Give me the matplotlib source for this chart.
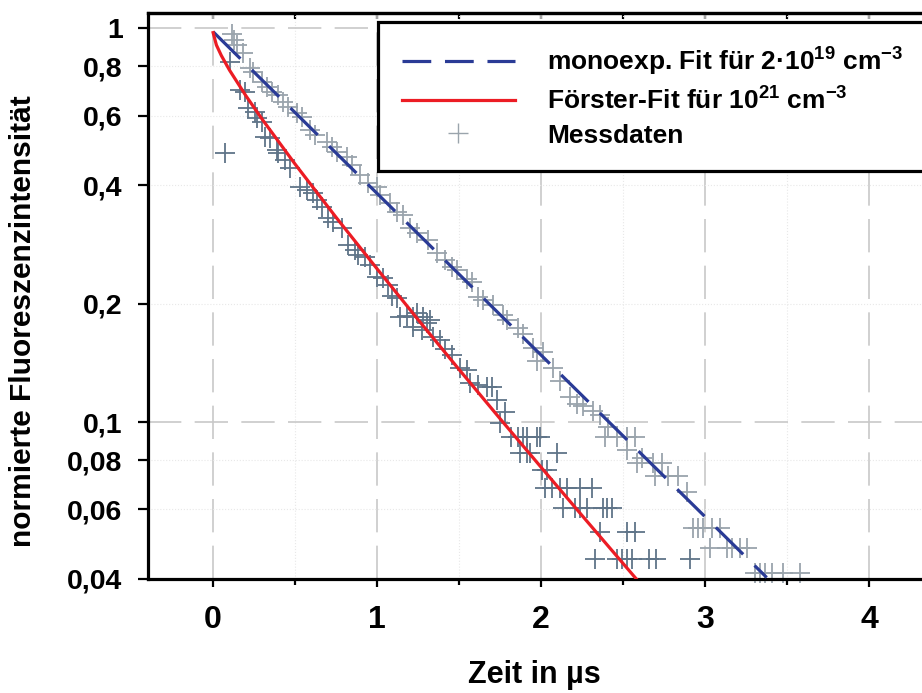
import matplotlib
matplotlib.use('Agg')
import matplotlib.pyplot as plt
from matplotlib.ticker import MultipleLocator, FixedLocator, LogLocator, FuncFormatter, NullFormatter
from matplotlib.lines import Line2D

# monoexp. fit for 2e19 cm^-3 (straight line on the log axis)
mono_t = [0.0, 3.376]
mono_y = [0.980, 0.0403]

# Foerster fit for 1e21 cm^-3
foerster_t = [0.0, 0.02, 0.05, 0.1, 0.2, 0.3, 0.5, 0.75, 1.0, 1.25, 1.5, 1.75, 2.0, 2.25, 2.58]
foerster_y = [0.975, 0.907, 0.853, 0.783, 0.674, 0.587, 0.452, 0.331, 0.245, 0.182, 0.136, 0.102, 0.0768, 0.0579, 0.040]

# measured data, low concentration (upper trace)
meas_hi_t = [0.114, 0.130, 0.148, 0.185, 0.226, 0.246, 0.297, 0.327, 0.358, 0.398, 0.429, 0.459, 0.510, 0.541,
             0.591, 0.622, 0.693, 0.724, 0.754, 0.815, 0.846, 0.896, 0.947, 0.998, 1.018, 1.079, 1.120, 1.160,
             1.201, 1.242, 1.313, 1.364, 1.415, 1.455, 1.486, 1.547, 1.577, 1.618, 1.648, 1.709, 1.770, 1.791,
             1.862, 1.892, 1.953, 2.014, 1.974, 2.075, 2.116, 2.177, 2.218, 2.258, 2.319, 2.360, 2.410, 2.390,
             2.462, 2.523, 2.573, 2.523, 2.614, 2.584, 2.685, 2.736, 2.695, 2.776, 2.837, 2.888,
             2.929, 2.959, 2.990, 3.041, 3.091, 3.030, 3.132, 3.163, 3.213, 3.254,
             3.305, 3.335, 3.366, 3.407, 3.477, 3.579]
meas_hi_y = [0.967, 0.934, 0.907, 0.866, 0.793, 0.775, 0.731, 0.710, 0.689, 0.677, 0.650, 0.631, 0.610, 0.596,
             0.552, 0.536, 0.514, 0.500, 0.485, 0.471, 0.450, 0.424, 0.405, 0.396, 0.377, 0.360, 0.342, 0.336,
             0.311, 0.302, 0.290, 0.269, 0.258, 0.248, 0.243, 0.231, 0.227, 0.208, 0.204, 0.198, 0.187, 0.182,
             0.173, 0.167, 0.154, 0.151, 0.143, 0.137, 0.127, 0.116, 0.111, 0.110, 0.107, 0.104, 0.0973, 0.0915,
             0.0915, 0.0915, 0.0915, 0.0851, 0.0812, 0.0788, 0.0788, 0.0788, 0.0731, 0.0731, 0.0731, 0.0665,
             0.0539, 0.0539, 0.0539, 0.0539, 0.0539, 0.0480, 0.0480, 0.0480, 0.0480, 0.0480,
             0.0414, 0.0414, 0.0414, 0.0414, 0.0414, 0.0414]

# measured data, high concentration (lower trace)
meas_lo_t = [0.073, 0.104, 0.165, 0.195, 0.213, 0.256, 0.268, 0.299, 0.317, 0.348, 0.390, 0.396, 0.439, 0.470,
             0.530, 0.571, 0.610, 0.634, 0.665, 0.701, 0.732, 0.787, 0.823, 0.866, 0.884, 0.927, 0.957, 1.000,
             1.037, 1.067, 1.091, 1.122, 1.140, 1.183, 1.220, 1.244, 1.280, 1.305, 1.323, 1.220, 1.274, 1.341,
             1.384, 1.415, 1.457, 1.506, 1.549, 1.567, 1.616, 1.671, 1.701, 1.732, 1.780, 1.750,
             1.817, 1.860, 1.890, 1.915, 1.976, 1.994, 1.872, 1.915, 1.933, 2.098, 2.006, 2.037,
             2.024, 2.067, 2.116, 2.159, 2.238, 2.311, 2.134, 2.207, 2.238, 2.280, 2.378, 2.402, 2.433,
             2.360, 2.524, 2.573, 2.329, 2.463, 2.494, 2.524, 2.555, 2.659, 2.701, 2.909]
meas_lo_y = [0.483, 0.821, 0.697, 0.689, 0.628, 0.613, 0.592, 0.578, 0.530, 0.527, 0.491, 0.483, 0.463, 0.442,
             0.396, 0.389, 0.382, 0.367, 0.352, 0.330, 0.322, 0.311, 0.282, 0.274, 0.266, 0.263, 0.251, 0.234,
             0.232, 0.223, 0.209, 0.207, 0.185, 0.186, 0.185, 0.189, 0.185, 0.179, 0.182, 0.174, 0.171, 0.164,
             0.162, 0.153, 0.148, 0.137, 0.136, 0.126, 0.124, 0.123, 0.123, 0.114, 0.106, 0.0996,
             0.0915, 0.0915, 0.0915, 0.0915, 0.0915, 0.0915, 0.0834, 0.0834, 0.0834, 0.0834, 0.0757, 0.0757,
             0.0680, 0.0680, 0.0680, 0.0680, 0.0680, 0.0680, 0.0605, 0.0605, 0.0605, 0.0605, 0.0605, 0.0605, 0.0605,
             0.0527, 0.0527, 0.0527, 0.0450, 0.0450, 0.0450, 0.0450, 0.0450, 0.0450, 0.0450, 0.0450]

y_ticks = [0.04, 0.06, 0.08, 0.1, 0.2, 0.4, 0.6, 0.8, 1.0]

blue = '#2a3b96'
red = '#ec1c24'
gray_hi = '#9aa4ac'
gray_lo = '#5f7488'

plt.rcParams['font.family'] = ['Liberation Sans', 'DejaVu Sans']
plt.rcParams['mathtext.fontset'] = 'custom'
plt.rcParams['mathtext.rm'] = 'Liberation Sans:bold'
plt.rcParams['mathtext.it'] = 'Liberation Sans:bold'
plt.rcParams['mathtext.bf'] = 'Liberation Sans:bold'
plt.rcParams['mathtext.default'] = 'rm'

fig = plt.figure(figsize=(9.22, 6.93), dpi=100)
ax = fig.add_axes([0.160, 0.1648, 0.840, 0.8165])
ax.set_yscale('log')
ax.set_ylim(0.04, 1.094)
ax.set_xlim(-0.40, 4.323)

# measured points under the fit lines
ax.plot(meas_hi_t, meas_hi_y, ls='none', marker='+', ms=14, mew=1.3, color=gray_hi, zorder=2, clip_on=False)
ax.plot(meas_lo_t, meas_lo_y, ls='none', marker='+', ms=14, mew=1.3, color=gray_lo, zorder=2, clip_on=False)

mono_line, = ax.plot(mono_t, mono_y, color=blue, lw=2.3, zorder=3)
mono_line.set_dashes([12, 5])
ax.plot(foerster_t, foerster_y, color=red, lw=2.3, zorder=3)

# axes and ticks
for s in ['left', 'bottom', 'top']:
    ax.spines[s].set_linewidth(2.3)
ax.spines['right'].set_visible(False)

ax.yaxis.set_major_locator(LogLocator(base=10, numticks=5))
ax.yaxis.set_minor_locator(FixedLocator([v for v in y_ticks if v not in (0.1, 1.0)]))
fmt = FuncFormatter(lambda v, p: ('%g' % v).replace('.', ','))
ax.yaxis.set_major_formatter(fmt)
ax.yaxis.set_minor_formatter(fmt)
ax.tick_params(axis='y', which='both', direction='out', length=7, width=1.6, pad=11, labelsize=20.5)
for lab in ax.get_yticklabels(which='both'):
    lab.set_fontweight('bold')

ax.xaxis.set_major_locator(MultipleLocator(1))
ax.xaxis.set_minor_locator(MultipleLocator(0.5))
ax.xaxis.set_minor_formatter(NullFormatter())
ax.tick_params(axis='x', which='major', direction='out', length=6, width=1.6, pad=13, labelsize=23)
ax.tick_params(axis='x', which='minor', direction='out', length=4, width=1.6)
for lab in ax.get_xticklabels():
    lab.set_fontweight('bold')

top = ax.secondary_xaxis('top')
top.xaxis.set_major_locator(MultipleLocator(0.5))
top.tick_params(direction='in', length=4, width=1.6, labeltop=False)
top.spines['top'].set_linewidth(2.3)

ax.grid(which='major', color='#c8c8c8', lw=1.2, ls=(0, (20, 8)))
ax.grid(which='minor', color='#e8e8e8', lw=0.8, ls=':')
ax.set_axisbelow(True)

ax.set_xlabel('Zeit in µs', fontsize=22, fontweight='bold', labelpad=18)
ax.set_ylabel('normierte Fluoreszenzintensität', fontsize=21.5, fontweight='bold')
ax.yaxis.set_label_coords(-0.143, 0.455)

# legend with own handles
h_mono = Line2D([], [], color=blue, lw=2.3, dashes=(9, 4.3))
h_foer = Line2D([], [], color=red, lw=2.3)
h_meas = Line2D([], [], ls='none', marker='+', ms=14, mew=1.0, color=gray_hi)
leg = ax.legend([h_mono, h_foer, h_meas],
                [r'monoexp. Fit für 2·10$^{19}$ cm$^{-3}$',
                 r'Förster-Fit für 10$^{21}$ cm$^{-3}$',
                 'Messdaten'],
                loc='upper left', bbox_to_anchor=(378 / 922, 1 - 22 / 693),
                bbox_transform=fig.transFigure,
                prop={'weight': 'bold', 'size': 19}, handlelength=4.3, handletextpad=1.2,
                borderpad=0.9, labelspacing=0.35, fancybox=False, framealpha=1, borderaxespad=0)
leg.get_frame().set_edgecolor('black')
leg.get_frame().set_linewidth(2.3)

fig.savefig('out.png', dpi=100)
